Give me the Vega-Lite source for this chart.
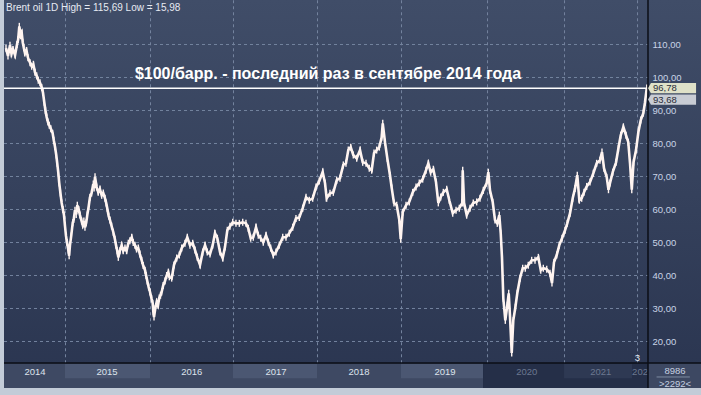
{
"$schema": "https://vega.github.io/schema/vega-lite/v6.json",
"width": 697, "height": 388,
"autosize": {"type": "none"},
"padding": {"left": 4, "top": 0, "right": 0, "bottom": 7},
"background": "#c3ccd8",
"config": {
  "font": "Liberation Sans",
  "view": {"stroke": null, "fill": {"gradient": "linear", "x1": 0, "y1": 0, "x2": 0, "y2": 1, "stops": [{"offset": 0, "color": "#404d68"}, {"offset": 1, "color": "#2a3550"}]}}
},
"resolve": {"axis": {"y": "independent", "x": "independent"}},
"datasets": {
  "brent": [
{"t":2014.291,"p":108.9},{"t":2014.315,"p":106.5},{"t":2014.339,"p":109.8},{"t":2014.357,"p":107.2},{"t":2014.375,"p":108.5},{"t":2014.4,"p":106.8},{"t":2014.423,"p":110},{"t":2014.437,"p":111.5},{"t":2014.451,"p":115.5},{"t":2014.468,"p":112.8},{"t":2014.48,"p":113.5},{"t":2014.492,"p":110.7},{"t":2014.505,"p":109},{"t":2014.519,"p":107.4},{"t":2014.537,"p":108.2},{"t":2014.555,"p":106},{"t":2014.58,"p":104.5},{"t":2014.6,"p":103.4},{"t":2014.62,"p":104},{"t":2014.639,"p":101.6},{"t":2014.66,"p":100.5},{"t":2014.679,"p":99.2},{"t":2014.7,"p":98.4},{"t":2014.72,"p":97},{"t":2014.735,"p":95.5},{"t":2014.751,"p":92.5},{"t":2014.765,"p":90},{"t":2014.78,"p":88},{"t":2014.795,"p":86.5},{"t":2014.811,"p":85.5},{"t":2014.83,"p":84.5},{"t":2014.852,"p":83.1},{"t":2014.865,"p":81},{"t":2014.88,"p":79},{"t":2014.895,"p":76.5},{"t":2014.907,"p":74},{"t":2014.92,"p":71},{"t":2014.931,"p":68},{"t":2014.945,"p":65},{"t":2014.96,"p":62},{"t":2014.975,"p":60},{"t":2014.988,"p":58.3},{"t":2015.0,"p":55},{"t":2015.012,"p":52},{"t":2015.025,"p":50},{"t":2015.04,"p":47.7},{"t":2015.05,"p":46},{"t":2015.06,"p":49.2},{"t":2015.075,"p":52},{"t":2015.093,"p":56},{"t":2015.105,"p":57},{"t":2015.12,"p":59.8},{"t":2015.135,"p":58.5},{"t":2015.148,"p":61.3},{"t":2015.165,"p":60},{"t":2015.18,"p":58.3},{"t":2015.2,"p":56.5},{"t":2015.213,"p":55.3},{"t":2015.227,"p":56.5},{"t":2015.24,"p":54.6},{"t":2015.255,"p":56},{"t":2015.268,"p":58.3},{"t":2015.285,"p":61},{"t":2015.3,"p":63.7},{"t":2015.32,"p":65},{"t":2015.34,"p":67.7},{"t":2015.35,"p":66.5},{"t":2015.361,"p":69.9},{"t":2015.38,"p":66.8},{"t":2015.4,"p":65.2},{"t":2015.42,"p":66.2},{"t":2015.441,"p":64.3},{"t":2015.46,"p":65},{"t":2015.481,"p":63.4},{"t":2015.495,"p":62},{"t":2015.508,"p":60.4},{"t":2015.525,"p":58},{"t":2015.541,"p":56.8},{"t":2015.56,"p":55},{"t":2015.581,"p":53.1},{"t":2015.6,"p":51},{"t":2015.613,"p":49.2},{"t":2015.628,"p":47.5},{"t":2015.641,"p":45.5},{"t":2015.66,"p":47.5},{"t":2015.681,"p":49.2},{"t":2015.7,"p":47.5},{"t":2015.721,"p":48.3},{"t":2015.74,"p":47.5},{"t":2015.761,"p":49.8},{"t":2015.78,"p":50.5},{"t":2015.802,"p":51.6},{"t":2015.82,"p":50},{"t":2015.841,"p":49.2},{"t":2015.86,"p":48},{"t":2015.881,"p":48.3},{"t":2015.9,"p":46.5},{"t":2015.922,"p":44.6},{"t":2015.94,"p":43},{"t":2015.962,"p":41.6},{"t":2015.975,"p":40},{"t":2015.989,"p":38.3},{"t":2016.005,"p":36.5},{"t":2016.022,"p":35},{"t":2016.04,"p":33},{"t":2016.054,"p":31.6},{"t":2016.062,"p":29},{"t":2016.07,"p":27.4},{"t":2016.085,"p":30},{"t":2016.102,"p":32},{"t":2016.118,"p":31},{"t":2016.133,"p":33.2},{"t":2016.148,"p":34},{"t":2016.162,"p":35},{"t":2016.18,"p":37},{"t":2016.202,"p":38.3},{"t":2016.222,"p":40},{"t":2016.242,"p":41},{"t":2016.254,"p":39.6},{"t":2016.282,"p":39.2},{"t":2016.295,"p":41},{"t":2016.31,"p":43.2},{"t":2016.343,"p":45.3},{"t":2016.374,"p":46.2},{"t":2016.403,"p":48.3},{"t":2016.442,"p":49.8},{"t":2016.47,"p":51.6},{"t":2016.502,"p":49.2},{"t":2016.535,"p":49.8},{"t":2016.563,"p":47.7},{"t":2016.59,"p":45.5},{"t":2016.623,"p":43.2},{"t":2016.655,"p":47.1},{"t":2016.683,"p":49.2},{"t":2016.71,"p":47.1},{"t":2016.743,"p":46.5},{"t":2016.775,"p":49.2},{"t":2016.803,"p":52.8},{"t":2016.831,"p":51.3},{"t":2016.863,"p":47.1},{"t":2016.895,"p":45.3},{"t":2016.923,"p":48.6},{"t":2016.951,"p":53.7},{"t":2016.983,"p":54.9},{"t":2017.016,"p":56.1},{"t":2017.055,"p":55.8},{"t":2017.095,"p":55.8},{"t":2017.136,"p":56.1},{"t":2017.175,"p":55.8},{"t":2017.203,"p":54.3},{"t":2017.232,"p":51.3},{"t":2017.263,"p":51.6},{"t":2017.296,"p":54.6},{"t":2017.323,"p":52.2},{"t":2017.352,"p":51.3},{"t":2017.383,"p":50.1},{"t":2017.416,"p":52.2},{"t":2017.444,"p":50.1},{"t":2017.472,"p":48.3},{"t":2017.504,"p":46.2},{"t":2017.536,"p":47.1},{"t":2017.576,"p":49.2},{"t":2017.617,"p":51.6},{"t":2017.656,"p":51.6},{"t":2017.696,"p":52.8},{"t":2017.737,"p":54.6},{"t":2017.776,"p":57.3},{"t":2017.816,"p":57.6},{"t":2017.857,"p":60.4},{"t":2017.897,"p":63.7},{"t":2017.936,"p":62.8},{"t":2017.977,"p":63.4},{"t":2018.017,"p":66.8},{"t":2018.056,"p":68.6},{"t":2018.097,"p":71.4},{"t":2018.125,"p":68},{"t":2018.145,"p":63.4},{"t":2018.185,"p":64.9},{"t":2018.225,"p":65.2},{"t":2018.266,"p":68.9},{"t":2018.305,"p":69.5},{"t":2018.345,"p":73.5},{"t":2018.377,"p":74},{"t":2018.405,"p":78},{"t":2018.434,"p":78.9},{"t":2018.465,"p":76.5},{"t":2018.506,"p":75.5},{"t":2018.546,"p":78},{"t":2018.578,"p":74.3},{"t":2018.618,"p":74},{"t":2018.657,"p":72.5},{"t":2018.686,"p":71.9},{"t":2018.714,"p":77.1},{"t":2018.746,"p":78},{"t":2018.778,"p":78.9},{"t":2018.806,"p":81.9},{"t":2018.819,"p":86.1},{"t":2018.846,"p":80.4},{"t":2018.874,"p":75.5},{"t":2018.906,"p":70.4},{"t":2018.927,"p":66.5},{"t":2018.954,"p":62},{"t":2018.987,"p":61.3},{"t":2019.018,"p":56.8},{"t":2019.035,"p":51},{"t":2019.059,"p":59.2},{"t":2019.099,"p":61.3},{"t":2019.138,"p":62.3},{"t":2019.179,"p":65.2},{"t":2019.219,"p":66.8},{"t":2019.258,"p":68},{"t":2019.299,"p":69.2},{"t":2019.339,"p":71.9},{"t":2019.367,"p":74},{"t":2019.395,"p":71.3},{"t":2019.427,"p":72.2},{"t":2019.459,"p":68.3},{"t":2019.487,"p":62},{"t":2019.516,"p":63.8},{"t":2019.547,"p":65.2},{"t":2019.588,"p":66.1},{"t":2019.619,"p":62.8},{"t":2019.66,"p":58.9},{"t":2019.7,"p":59.8},{"t":2019.739,"p":60.4},{"t":2019.775,"p":62},{"t":2019.78,"p":71.9},{"t":2019.796,"p":62},{"t":2019.828,"p":58.3},{"t":2019.868,"p":60.4},{"t":2019.907,"p":62},{"t":2019.948,"p":62.3},{"t":2019.988,"p":63.4},{"t":2020.028,"p":65.8},{"t":2020.068,"p":68},{"t":2020.088,"p":71.3},{"t":2020.108,"p":65.8},{"t":2020.141,"p":62.2},{"t":2020.168,"p":56.8},{"t":2020.196,"p":55.8},{"t":2020.22,"p":58.3},{"t":2020.237,"p":52.8},{"t":2020.252,"p":45.5},{"t":2020.268,"p":33.1},{"t":2020.292,"p":26.4},{"t":2020.316,"p":31},{"t":2020.333,"p":34.6},{"t":2020.349,"p":27.4},{"t":2020.369,"p":16.5},{"t":2020.388,"p":26.4},{"t":2020.413,"p":30.4},{"t":2020.436,"p":34.6},{"t":2020.469,"p":39.2},{"t":2020.501,"p":42.2},{"t":2020.532,"p":42.2},{"t":2020.568,"p":43.1},{"t":2020.609,"p":44.6},{"t":2020.649,"p":44.6},{"t":2020.689,"p":45.5},{"t":2020.718,"p":41.6},{"t":2020.749,"p":42.2},{"t":2020.79,"p":41.9},{"t":2020.829,"p":40.7},{"t":2020.853,"p":37.7},{"t":2020.877,"p":44},{"t":2020.91,"p":46.2},{"t":2020.941,"p":49.2},{"t":2020.974,"p":51.3},{"t":2021.01,"p":53.7},{"t":2021.037,"p":55.8},{"t":2021.07,"p":58.9},{"t":2021.102,"p":63.4},{"t":2021.13,"p":66.4},{"t":2021.157,"p":70.4},{"t":2021.182,"p":62.8},{"t":2021.21,"p":63.4},{"t":2021.238,"p":65.2},{"t":2021.27,"p":67},{"t":2021.31,"p":68.3},{"t":2021.35,"p":71},{"t":2021.39,"p":74},{"t":2021.43,"p":74.9},{"t":2021.454,"p":77.4},{"t":2021.478,"p":72.5},{"t":2021.511,"p":69.8},{"t":2021.532,"p":66},{"t":2021.55,"p":68},{"t":2021.583,"p":71.3},{"t":2021.623,"p":74.3},{"t":2021.651,"p":78.5},{"t":2021.679,"p":82.5},{"t":2021.711,"p":85},{"t":2021.743,"p":82.5},{"t":2021.77,"p":80.4},{"t":2021.791,"p":74},{"t":2021.812,"p":66},{"t":2021.833,"p":74.3},{"t":2021.863,"p":78},{"t":2021.891,"p":83.4},{"t":2021.92,"p":87.1},{"t":2021.951,"p":89.2},{"t":2021.971,"p":92.5},{"t":2021.992,"p":96.8}
  ]
},
"layer": [
  {
    "data": {"values": [{"v":20},{"v":30},{"v":40},{"v":50},{"v":60},{"v":70},{"v":80},{"v":90},{"v":100},{"v":110}]},
    "mark": {"type": "rule", "stroke": "#74839e", "strokeOpacity": 1, "strokeDash": [3, 3], "strokeWidth": 1},
    "encoding": {
      "y": {"field": "v", "type": "quantitative", "title": null, "scale": {"domain": [5.909, 123.4848], "nice": false, "zero": false},
            "axis": {"orient": "right", "offset": -53, "values": [20,30,40,50,60,70,80,90,100,110], "labelExpr": "replace(format(datum.value, '.2f'), '.', ',')", "domain": false, "ticks": false, "tickSize": 0, "grid": false, "labelColor": "#c9d3e6", "labelFontSize": 9.5, "labelFont": "Liberation Sans", "labelPadding": 4, "labelAlign": "left", "labelBaseline": "middle", "title": null}},
      "x": {"datum": 2014.267, "type": "quantitative", "scale": {"domain": [2014.267, 2022.644], "nice": false, "zero": false}, "axis": null},
      "x2": {"datum": 2022.007}
    }
  },
  {
    "data": {"values": [{"t":2015.0062},{"t":2016.0278},{"t":2017.0254},{"t":2018.035},{"t":2019.0446},{"t":2020.0783},{"t":2021.0038},{"t":2021.8812}]},
    "mark": {"type": "rule", "stroke": "#74839e", "strokeOpacity": 1, "strokeDash": [3, 3], "strokeWidth": 1},
    "encoding": {
      "x": {"field": "t", "type": "quantitative", "axis": null},
      "y": {"datum": 13.4, "type": "quantitative", "axis": null},
      "y2": {"datum": 123.4848}
    }
  },
  {
    "data": {"values": [{"s":2014.267,"e":2020.024,"zone":"history"},{"s":2020.024,"e":2022.007,"zone":"recent"},{"s":2022.007,"e":2022.644,"zone":"info"}]},
    "mark": {"type": "rect"},
    "encoding": {
      "x": {"field": "s", "type": "quantitative", "axis": null},
      "x2": {"field": "e"},
      "y": {"datum": 5.909, "type": "quantitative", "axis": null},
      "y2": {"datum": 13.4},
      "fill": {"condition": [{"test": "datum.zone === 'recent'", "value": "#252f48"}, {"test": "datum.zone === 'info'", "value": "#3d4862"}], "value": "#3e4963"}
    }
  },
  {
    "data": {"values": [{"s":2015.0,"e":2016.022},{"s":2017.019,"e":2018.029},{"s":2019.038,"e":2020.024},{"s":2020.998,"e":2021.815}]},
    "mark": {"type": "rect"},
    "encoding": {
      "x": {"field": "s", "type": "quantitative", "axis": null},
      "x2": {"field": "e"},
      "y": {"datum": 8.9, "type": "quantitative", "axis": null},
      "y2": {"datum": 13.15},
      "fill": {"condition": {"test": "datum.s > 2020.5", "value": "#2e3953"}, "value": "#4b5772"}
    }
  },
  {
    "data": {"values": [{"label":"2014","m":2014.639},{"label":"2015","m":2015.505},{"label":"2016","m":2016.523},{"label":"2017","m":2017.536},{"label":"2018","m":2018.534},{"label":"2019","m":2019.567},{"label":"2020","m":2020.549},{"label":"2021","m":2021.439},{"label":"2022","m":2021.943}]},
    "mark": {"type": "text", "fontSize": 9.5, "align": "center", "baseline": "middle", "font": "Liberation Sans"},
    "encoding": {
      "x": {"field": "m", "type": "quantitative", "axis": null},
      "y": {"datum": 10.9, "type": "quantitative", "axis": null},
      "text": {"field": "label"},
      "fill": {"condition": {"test": "datum.m > 2020", "value": "#6c7890"}, "value": "#dde3ec"}
    }
  },
  {
    "data": {"values": [{"s":2022.007,"e":2022.644}]},
    "mark": {"type": "rect", "color": "#3d4862"},
    "encoding": {
      "x": {"field": "s", "type": "quantitative", "axis": null},
      "x2": {"field": "e"},
      "y": {"datum": 5.909, "type": "quantitative", "axis": null},
      "y2": {"datum": 13.4}
    }
  },
  {
    "data": {"values": [{"a":2022.11,"b":2022.51}]},
    "mark": {"type": "rule", "color": "#7d8aa0", "strokeWidth": 1},
    "encoding": {
      "x": {"field": "a", "type": "quantitative", "axis": null},
      "x2": {"field": "b"},
      "y": {"datum": 9.25, "type": "quantitative", "axis": null}
    }
  },
  {
    "data": {"values": [{"label":"8986","v":11.15},{"label":">2292<","v":7.12}]},
    "mark": {"type": "text", "fontSize": 9.5, "align": "center", "baseline": "middle", "color": "#c5cfe0", "font": "Liberation Sans"},
    "encoding": {
      "x": {"datum": 2022.332, "type": "quantitative", "axis": null},
      "y": {"field": "v", "type": "quantitative", "axis": null},
      "text": {"field": "label"}
    }
  },
  {
    "data": {"name": "brent"},
    "mark": {"type": "line", "color": "#fff4f0", "strokeWidth": 2.6, "strokeJoin": "miter", "interpolate": "linear"},
    "encoding": {
      "x": {"field": "t", "type": "quantitative", "axis": null},
      "y": {"field": "p", "type": "quantitative", "axis": null}
    }
  },
  {
    "data": {"name": "brent"},
    "mark": {"type": "tick", "orient": "vertical", "size": 7, "thickness": 1.4, "color": "#fff4f0", "opacity": 1},
    "encoding": {
      "x": {"field": "t", "type": "quantitative", "axis": null},
      "y": {"field": "p", "type": "quantitative", "axis": null}
    }
  },
  {
    "data": {"values": [{"v":96.78}]},
    "mark": {"type": "rule", "color": "#ffffff", "strokeWidth": 1.5},
    "encoding": {
      "y": {"field": "v", "type": "quantitative", "axis": null},
      "x": {"datum": 2014.267, "type": "quantitative", "axis": null},
      "x2": {"datum": 2022.007}
    }
  },
  {
    "data": {"values": [{"v":13.5}]},
    "mark": {"type": "rule", "color": "#0b0e16", "strokeWidth": 1.5},
    "encoding": {
      "y": {"field": "v", "type": "quantitative", "axis": null},
      "x": {"datum": 2014.267, "type": "quantitative", "axis": null},
      "x2": {"datum": 2022.644}
    }
  },
  {
    "data": {"values": [{"t":2022.007}]},
    "mark": {"type": "rule", "color": "#0b0e16", "strokeWidth": 1.5},
    "encoding": {
      "x": {"field": "t", "type": "quantitative", "axis": null},
      "y": {"datum": 5.909, "type": "quantitative", "axis": null},
      "y2": {"datum": 123.4848}
    }
  },
  {
    "data": {"values": [{"v":96.78,"kind":"high"},{"v":93.3,"kind":"last"}]},
    "mark": {"type": "point", "filled": true, "opacity": 1, "size": 2304, "shape": "M-1,0L-0.88,-0.21L1,-0.21L1,0.21L-0.88,0.21Z", "strokeWidth": 0},
    "encoding": {
      "x": {"datum": 2022.296, "type": "quantitative", "axis": null},
      "y": {"field": "v", "type": "quantitative", "axis": null},
      "fill": {"condition": {"test": "datum.kind === 'high'", "value": "#dfe1c8"}, "value": "#c8ccd4"}
    }
  },
  {
    "data": {"values": [{"v":96.78,"lab":"96,78"},{"v":93.3,"lab":"93,68"}]},
    "mark": {"type": "text", "fontSize": 9.5, "align": "left", "baseline": "middle", "color": "#2a2d38", "font": "Liberation Sans"},
    "encoding": {
      "x": {"datum": 2022.067, "type": "quantitative", "axis": null},
      "y": {"field": "v", "type": "quantitative", "axis": null},
      "text": {"field": "lab"}
    }
  },
  {
    "data": {"values": [{"txt":"$100/барр. - последний раз в сентябре 2014 года"}]},
    "mark": {"type": "text", "fontSize": 16, "fontWeight": "bold", "align": "center", "baseline": "middle", "color": "#ffffff", "font": "Liberation Sans"},
    "encoding": {
      "x": {"datum": 2018.161, "type": "quantitative", "axis": null},
      "y": {"datum": 101.05, "type": "quantitative", "axis": null},
      "text": {"field": "txt"}
    }
  },
  {
    "data": {"values": [{"txt":"Brent oil 1D High = 115,69 Low = 15,98"}]},
    "mark": {"type": "text", "fontSize": 10, "align": "left", "baseline": "middle", "color": "#e6eaf2", "font": "Liberation Sans"},
    "encoding": {
      "x": {"datum": 2014.291, "type": "quantitative", "axis": null},
      "y": {"datum": 121.0, "type": "quantitative", "axis": null},
      "text": {"field": "txt"}
    }
  },
  {
    "data": {"values": [{"txt":"3"}]},
    "mark": {"type": "text", "fontSize": 9.5, "align": "center", "baseline": "middle", "color": "#e6eaf2", "font": "Liberation Sans"},
    "encoding": {
      "x": {"datum": 2021.879, "type": "quantitative", "axis": null},
      "y": {"datum": 14.9, "type": "quantitative", "axis": null},
      "text": {"field": "txt"}
    }
  }
]
}
